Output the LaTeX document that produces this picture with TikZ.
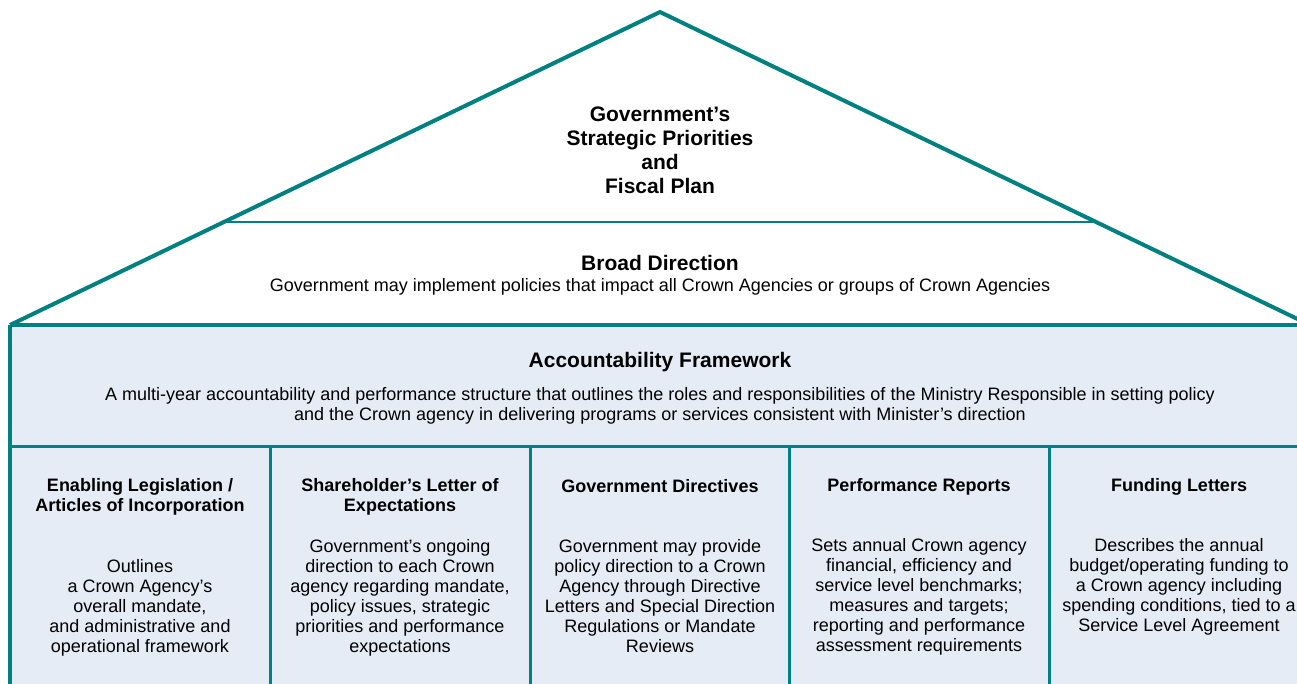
\documentclass[tikz,border=0pt]{standalone}
\usepackage{fontspec}
\setmainfont{Liberation Sans}
\definecolor{houseline}{RGB}{0,128,128}
\definecolor{panelfill}{RGB}{230,236,246}
\begin{document}
\begin{tikzpicture}[x=1pt,y=-1pt,
  roofline/.style={draw=houseline, line width=4pt, line join=miter},
  divline/.style={draw=houseline, line width=3pt},
  bigtitle/.style={font=\bfseries\fontsize{21}{24}\selectfont, align=center, inner sep=0pt},
  bodytext/.style={font=\fontsize{18}{20}\selectfont, align=center, inner sep=0pt},
  colhead/.style={font=\bfseries\fontsize{18}{20}\selectfont, align=center, inner sep=0pt},
  coltext/.style={font=\fontsize{18}{20}\selectfont, align=center, inner sep=0pt}]
\useasboundingbox (0,0) rectangle (1297,683);
\clip (0,0) rectangle (1297,683);

% corner points of the house
\coordinate (eaveL) at (10,325);
\coordinate (apex) at (660,12);
\coordinate (eaveR) at (1310,325);
\coordinate (baseL) at (10,700);
\coordinate (baseR) at (1310,700);

% body of the house
\fill[panelfill] (eaveL) rectangle (baseR);

% inner line of the roof
\draw[divline, line width=2.5pt] (224,222) -- (1096,222);

% row and column dividers
\draw[divline] (10,446) -- (1310,446);
\foreach \cx in {270,530,789,1049}
  \draw[divline] (\cx,446) -- (\cx,700);

% outline of the house
\draw[roofline] (eaveL) -- (apex) -- (eaveR);
\draw[roofline] (eaveL) -- (eaveR);
\draw[roofline] (eaveL) -- (baseL);
\draw[roofline] (eaveR) -- (baseR);

% roof texts
\node[bigtitle] (priorities) at (660,150) {Government’s\\Strategic Priorities\\and\\Fiscal Plan};
\node[bigtitle] (broad) at (660,263) {Broad Direction};
\node[bodytext] (broadtext) at (660,287) {Government may implement policies that impact all Crown Agencies or groups of Crown Agencies};

% accountability band
\node[bigtitle] (framework) at (660,362) {Accountability Framework};
\node[bodytext] (frameworktext) at (660,406) {A multi-year accountability and performance structure that outlines the roles and responsibilities of the Ministry Responsible in setting policy\\and the Crown agency in delivering programs or services consistent with Minister’s direction};

% columns
\node[colhead] (legislation) at (140,497) {Enabling Legislation /\\Articles of Incorporation};
\node[coltext] (legislationtext) at (140,608) {Outlines\\a Crown Agency’s\\overall mandate,\\and administrative and\\operational framework};

\node[colhead] (letter) at (400,497) {Shareholder’s Letter of\\Expectations};
\node[coltext] (lettertext) at (400,598) {Government’s ongoing\\direction to each Crown\\agency regarding mandate,\\policy issues, strategic\\priorities and performance\\expectations};

\node[colhead] (directives) at (660,486) {Government Directives};
\node[coltext] (directivestext) at (660,596) {Government may provide\\policy direction to a Crown\\Agency through Directive\\Letters and Special Direction\\Regulations or Mandate\\Reviews};

\node[colhead] (reports) at (919,487) {Performance Reports};
\node[coltext] (reportstext) at (919,597) {Sets annual Crown agency\\financial, efficiency and\\service level benchmarks;\\measures and targets;\\reporting and performance\\assessment requirements};

\node[colhead] (funding) at (1179,487) {Funding Letters};
\node[coltext] (fundingtext) at (1179,587) {Describes the annual\\budget/operating funding to\\a Crown agency including\\spending conditions, tied to a\\Service Level Agreement};
\end{tikzpicture}
\end{document}
